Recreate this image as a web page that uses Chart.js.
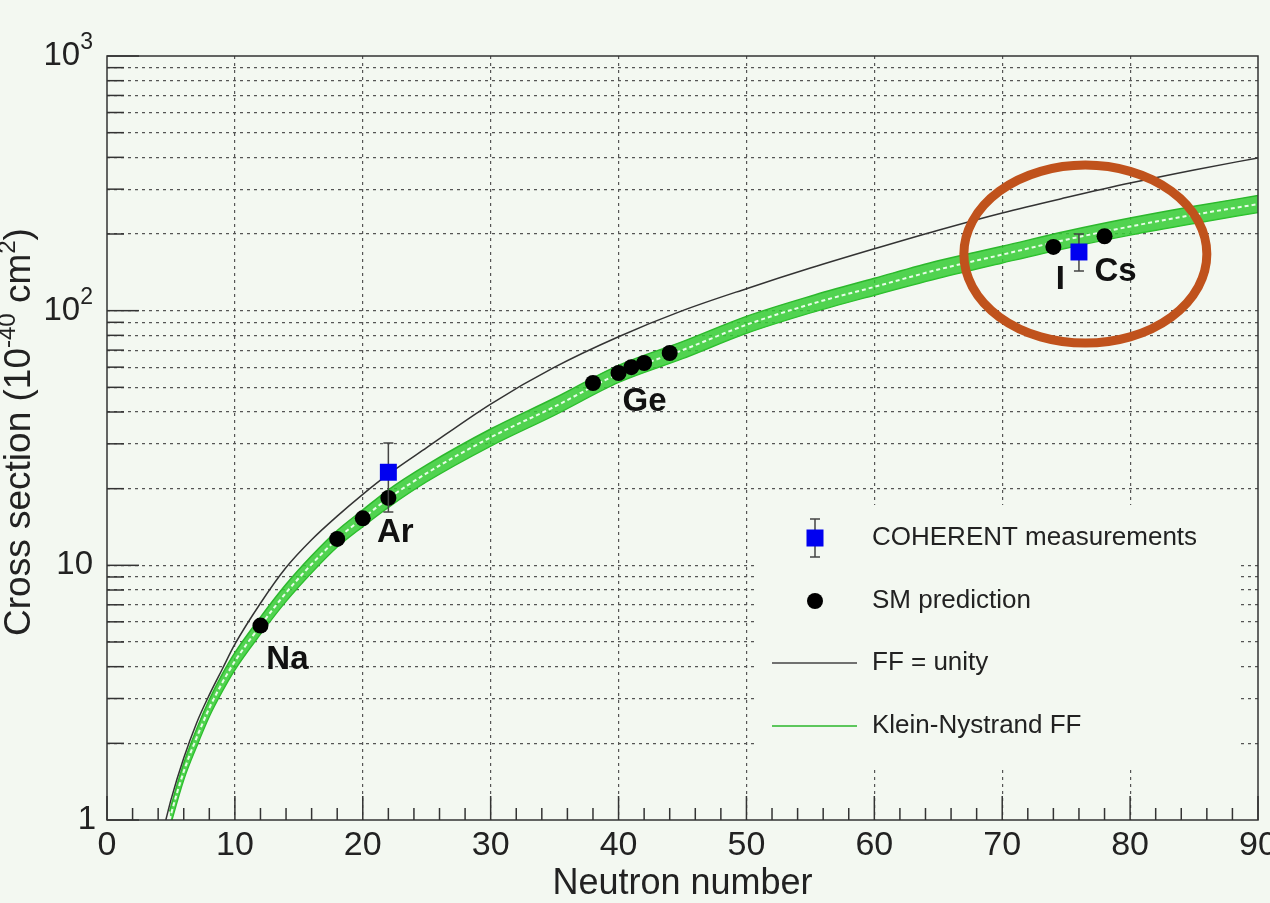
<!DOCTYPE html>
<html>
<head>
<meta charset="utf-8">
<title>CEvNS cross section vs neutron number</title>
<script src="https://cdn.jsdelivr.net/npm/chart.js@4.4.1/dist/chart.umd.min.js"></script>
<style>
    html, body { margin: 0; padding: 0; background: #f3f8f1; }
    #wrap { width: 1270px; height: 903px; }
</style>
</head>
<body>
<div id="wrap"><canvas id="xsChart" width="1270" height="903"></canvas></div>
<script>
// values (cross section in 1e-40 cm^2)
const unityN     = [4.6, 5, 6, 7, 8, 9, 10, 12, 14, 16, 18, 20, 22, 25, 30, 35, 40, 45, 50, 55, 60, 65, 70, 75, 80, 85, 90];
const unitySigma = [1.0, 1.2, 1.75, 2.4, 3.1, 3.9, 4.9, 7.1, 9.8, 12.6, 15.6, 19, 22.8, 29, 43, 60, 79, 100, 122, 147, 175, 207, 242, 278, 317, 357, 398];

const kleinN     = [4.9, 5, 6, 7, 8, 9, 10, 12, 14, 16, 18, 20, 22, 25, 30, 35, 40, 45, 50, 55, 60, 65, 70, 75, 80, 85, 90];
const kleinMid   = [1.0, 1.05, 1.55, 2.1, 2.75, 3.45, 4.2, 5.8, 7.8, 10.1, 12.7, 15.3, 18.3, 23, 31.8, 42, 56.5, 70, 88, 106, 124, 145, 166, 190, 214, 238, 262];
const kleinHigh  = [1.08, 1.13, 1.67, 2.27, 2.97, 3.73, 4.54, 6.26, 8.42, 10.9, 13.7, 16.5, 19.8, 24.8, 34.3, 45.4, 61, 75.6, 95, 114, 134, 157, 179, 205, 231, 257, 283];
const kleinLow   = [0.93, 0.97, 1.44, 1.94, 2.55, 3.19, 3.89, 5.37, 7.22, 9.35, 11.8, 14.2, 16.9, 21.3, 29.4, 38.9, 52.3, 64.8, 81.5, 98, 115, 134, 154, 176, 198, 220, 243];

const smN     = [12, 18, 20, 22, 38, 40, 41, 42, 44, 74, 78];
const smSigma = [5.8, 12.7, 15.3, 18.4, 52, 56.9, 60, 62.3, 68.2, 178, 196];

const cohN     = [22, 76];
const cohSigma = [23.2, 170];
const cohLow   = [16.2, 143];
const cohHigh  = [30.2, 200];

const targetNames = ['Na', 'Ar', 'Ge', 'I', 'Cs'];
const targetN     = [12, 22, 40, 74, 78];

// highlighted region (ellipse): neutron range and cross-section range
const ringN     = [67, 86];
const ringSigma = [74.6, 373];

const xTicks = [];
for (let n = 0; n <= 90; n += 2) xTicks.push(n);
const yMajor = [1, 10, 100, 1000];
const yMajorBase = ['1', '10', '10', '10'];
const yMajorExp  = ['', '', '2', '3'];
const yTicks = [];
[1, 10, 100].forEach(d => { for (let k = 1; k < 10; k++) yTicks.push(k * d); });
yTicks.push(1000);

const FONT = "'Liberation Sans', Arial, sans-serif";
const BG = '#f3f8f1';
const INK = '#222';
const GRID = '#555';

const pts = (xs, ys) => xs.map((x, i) => ({ x: x, y: ys[i] }));

// draws a run of [text, isSuperscript] pieces starting at x, y (baseline middle)
function drawRich(ctx, pieces, x, y, size, supSize, supRise) {
    pieces.forEach(([t, sup]) => {
        ctx.font = (sup ? supSize : size) + 'px ' + FONT;
        ctx.fillText(t, x, sup ? y - supRise : y);
        x += ctx.measureText(t).width;
    });
}
function richWidth(ctx, pieces, size, supSize) {
    let w = 0;
    pieces.forEach(([t, sup]) => {
        ctx.font = (sup ? supSize : size) + 'px ' + FONT;
        w += ctx.measureText(t).width;
    });
    return w;
}

const plotDecor = {
    id: 'plotDecor',
    beforeDraw(chart) {
        const ctx = chart.ctx;
        ctx.save();
        ctx.fillStyle = BG;
        ctx.fillRect(0, 0, chart.width, chart.height);
        ctx.restore();
    },
    beforeDatasetsDraw(chart) {
        const { ctx, chartArea: a, scales } = chart;
        ctx.save();
        ctx.strokeStyle = '#333';
        ctx.lineWidth = 1.5;
        // inner tick marks on the bottom axis
        scales.x.ticks.forEach(t => {
            const px = scales.x.getPixelForValue(t.value);
            const len = t.value % 10 === 0 ? 24 : 12;
            ctx.beginPath();
            ctx.moveTo(px, a.bottom);
            ctx.lineTo(px, a.bottom - len);
            ctx.stroke();
        });
        // inner tick marks on the left axis
        scales.y.ticks.forEach(t => {
            const py = scales.y.getPixelForValue(t.value);
            const len = yMajor.includes(t.value) ? 32 : 17;
            ctx.beginPath();
            ctx.moveTo(a.left, py);
            ctx.lineTo(a.left + len, py);
            ctx.stroke();
        });

        // y tick labels with real superscripts
        ctx.fillStyle = INK;
        ctx.textBaseline = 'middle';
        ctx.textAlign = 'left';
        yMajor.forEach((v, i) => {
            const pieces = [[yMajorBase[i], false]];
            if (yMajorExp[i]) pieces.push([yMajorExp[i], true]);
            const w = richWidth(ctx, pieces, 33, 23);
            const right = i === 0 ? 96 : 93;
            drawRich(ctx, pieces, right - w, scales.y.getPixelForValue(v), 33, 23, 13);
        });

        // y axis title, rotated
        const title = [['Cross section (10', false], ['-40', true], [' cm', false], ['2', true], [')', false]];
        ctx.save();
        ctx.translate(20, 432);
        ctx.rotate(-Math.PI / 2);
        const tw = richWidth(ctx, title, 37, 24);
        drawRich(ctx, title, -tw / 2, 0, 37, 24, 12);
        ctx.restore();
        ctx.restore();

        // legend box (hides the grid behind it)
        const box = { left: 757, top: 505, right: 1240, bottom: 770 };
        ctx.save();
        ctx.fillStyle = BG;
        ctx.fillRect(box.left, box.top, box.right - box.left, box.bottom - box.top);
        const mx = 815, tx = 872;
        const rows = [538, 601, 663, 726];
        ctx.font = '26px ' + FONT;
        ctx.fillStyle = INK;
        ctx.textBaseline = 'middle';
        ctx.fillText('COHERENT measurements', tx, rows[0]);
        ctx.fillText('SM prediction', tx, rows[1]);
        ctx.fillText('FF = unity', tx, rows[2]);
        ctx.fillText('Klein-Nystrand FF', tx, rows[3]);
        // error-bar square
        ctx.strokeStyle = '#444';
        ctx.lineWidth = 1.5;
        ctx.beginPath();
        ctx.moveTo(mx, rows[0] - 19); ctx.lineTo(mx, rows[0] + 19);
        ctx.moveTo(mx - 5, rows[0] - 19); ctx.lineTo(mx + 5, rows[0] - 19);
        ctx.moveTo(mx - 5, rows[0] + 19); ctx.lineTo(mx + 5, rows[0] + 19);
        ctx.stroke();
        ctx.fillStyle = '#0000f0';
        ctx.fillRect(mx - 8.5, rows[0] - 8.5, 17, 17);
        // dot
        ctx.fillStyle = '#000';
        ctx.beginPath();
        ctx.arc(mx, rows[1], 8, 0, Math.PI * 2);
        ctx.fill();
        // lines
        ctx.strokeStyle = '#444';
        ctx.beginPath();
        ctx.moveTo(772, rows[2]); ctx.lineTo(857, rows[2]);
        ctx.stroke();
        ctx.strokeStyle = '#5cc75c';
        ctx.lineWidth = 2;
        ctx.beginPath();
        ctx.moveTo(772, rows[3]); ctx.lineTo(857, rows[3]);
        ctx.stroke();
        ctx.restore();
    },
    beforeDatasetDraw(chart, args) {
        if (args.index !== 0) return;
        const { ctx, scales } = chart;
        ctx.save();
        ctx.strokeStyle = '#444';
        ctx.lineWidth = 1.5;
        cohN.forEach((n, i) => {
            const px = scales.x.getPixelForValue(n);
            const top = scales.y.getPixelForValue(cohHigh[i]);
            const bot = scales.y.getPixelForValue(cohLow[i]);
            ctx.beginPath();
            ctx.moveTo(px, top); ctx.lineTo(px, bot);
            ctx.moveTo(px - 5, top); ctx.lineTo(px + 5, top);
            ctx.moveTo(px - 5, bot); ctx.lineTo(px + 5, bot);
            ctx.stroke();
        });
        ctx.restore();
    },
    afterDatasetsDraw(chart) {
        const { ctx, chartArea: a, scales } = chart;
        ctx.save();
        // target names under their SM points
        const offs = { Na: [27, 34], Ar: [7, 35], Ge: [26, 29], I: [7, 33], Cs: [11, 36] };
        ctx.font = 'bold 33px ' + FONT;
        ctx.fillStyle = '#111';
        ctx.textAlign = 'center';
        ctx.textBaseline = 'middle';
        targetNames.forEach((name, i) => {
            const n = targetN[i];
            const s = smSigma[smN.indexOf(n)];
            const px = scales.x.getPixelForValue(n) + offs[name][0];
            const py = scales.y.getPixelForValue(s) + offs[name][1];
            ctx.fillText(name, px, py);
        });

        // highlight ellipse
        const x0 = scales.x.getPixelForValue(ringN[0]);
        const x1 = scales.x.getPixelForValue(ringN[1]);
        const y0 = scales.y.getPixelForValue(ringSigma[1]);
        const y1 = scales.y.getPixelForValue(ringSigma[0]);
        ctx.strokeStyle = '#c0521c';
        ctx.lineWidth = 9;
        ctx.beginPath();
        ctx.ellipse((x0 + x1) / 2, (y0 + y1) / 2, (x1 - x0) / 2, (y1 - y0) / 2, 0, 0, Math.PI * 2);
        ctx.stroke();

        // frame
        ctx.strokeStyle = '#333';
        ctx.lineWidth = 1.5;
        ctx.strokeRect(a.left, a.top, a.right - a.left, a.bottom - a.top);
        ctx.restore();
    }
};

new Chart(document.getElementById('xsChart'), {
    type: 'scatter',
    data: {
        datasets: [{
            label: 'COHERENT measurements',
            data: pts(cohN, cohSigma),
            pointStyle: 'rect',
            pointRadius: 12,
            backgroundColor: '#0000f0',
            borderWidth: 0,
            order: 0
        }, {
            label: 'SM prediction',
            data: pts(smN, smSigma),
            pointStyle: 'circle',
            pointRadius: 8,
            backgroundColor: '#000',
            borderWidth: 0,
            order: 1
        }, {
            label: 'FF = unity',
            data: pts(unityN, unitySigma),
            showLine: true,
            cubicInterpolationMode: 'monotone',
            borderColor: '#333',
            borderWidth: 1.5,
            pointRadius: 0,
            clip: 0,
            order: 2
        }, {
            label: 'Klein-Nystrand FF',
            data: pts(kleinN, kleinMid),
            showLine: true,
            cubicInterpolationMode: 'monotone',
            borderColor: 'rgba(240, 255, 240, 0.95)',
            borderDash: [4, 3],
            borderWidth: 2,
            pointRadius: 0,
            clip: 0,
            order: 3
        }, {
            label: 'Klein-Nystrand high',
            data: pts(kleinN, kleinHigh),
            showLine: true,
            cubicInterpolationMode: 'monotone',
            borderColor: '#2cb82c',
            borderWidth: 1.5,
            backgroundColor: 'rgba(52, 205, 52, 0.85)',
            fill: '+1',
            pointRadius: 0,
            clip: 0,
            order: 4
        }, {
            label: 'Klein-Nystrand low',
            data: pts(kleinN, kleinLow),
            showLine: true,
            cubicInterpolationMode: 'monotone',
            borderColor: '#2cb82c',
            borderWidth: 1.5,
            pointRadius: 0,
            clip: 0,
            order: 5
        }]
    },
    options: {
        responsive: false,
        animation: false,
        events: [],
        layout: { padding: { top: 56, right: 12, left: 0, bottom: 0 } },
        plugins: {
            legend: { display: false },
            tooltip: { enabled: false }
        },
        scales: {
            x: {
                type: 'linear',
                min: 0,
                max: 90,
                afterBuildTicks: s => { s.ticks = xTicks.map(v => ({ value: v })); },
                afterFit: s => { s.height = 83; s.paddingLeft = 0; s.paddingRight = 0; },
                ticks: {
                    autoSkip: false,
                    maxRotation: 0,
                    padding: 5,
                    color: INK,
                    font: { family: FONT, size: 34 },
                    callback: v => (v % 10 === 0 ? String(v) : '')
                },
                grid: {
                    drawTicks: false,
                    lineWidth: 1.2,
                    color: c => {
                        const v = c.tick ? c.tick.value : 0;
                        return (v % 10 === 0 && v !== 0 && v !== 90) ? GRID : 'rgba(0,0,0,0)';
                    }
                },
                border: { display: false, dash: [3, 4] },
                title: {
                    display: true,
                    text: 'Neutron number',
                    color: INK,
                    padding: 0,
                    font: { family: FONT, size: 36, lineHeight: 1.05 }
                }
            },
            y: {
                type: 'logarithmic',
                min: 1,
                max: 1000,
                afterBuildTicks: s => { s.ticks = yTicks.map(v => ({ value: v, major: yMajor.includes(v) })); },
                afterFit: s => { s.width = 107; s.paddingTop = 0; s.paddingBottom = 0; },
                ticks: {
                    autoSkip: false,
                    padding: 15,
                    font: { family: FONT, size: 33 },
                    callback: () => ''
                },
                grid: {
                    drawTicks: false,
                    lineWidth: 1.2,
                    color: c => {
                        const v = c.tick ? c.tick.value : 1;
                        return (v === 1 || v === 1000) ? 'rgba(0,0,0,0)' : GRID;
                    }
                },
                border: { display: false, dash: [3, 4] },
                title: { display: false }
            }
        }
    },
    plugins: [plotDecor]
});
</script>
</body>
</html>
